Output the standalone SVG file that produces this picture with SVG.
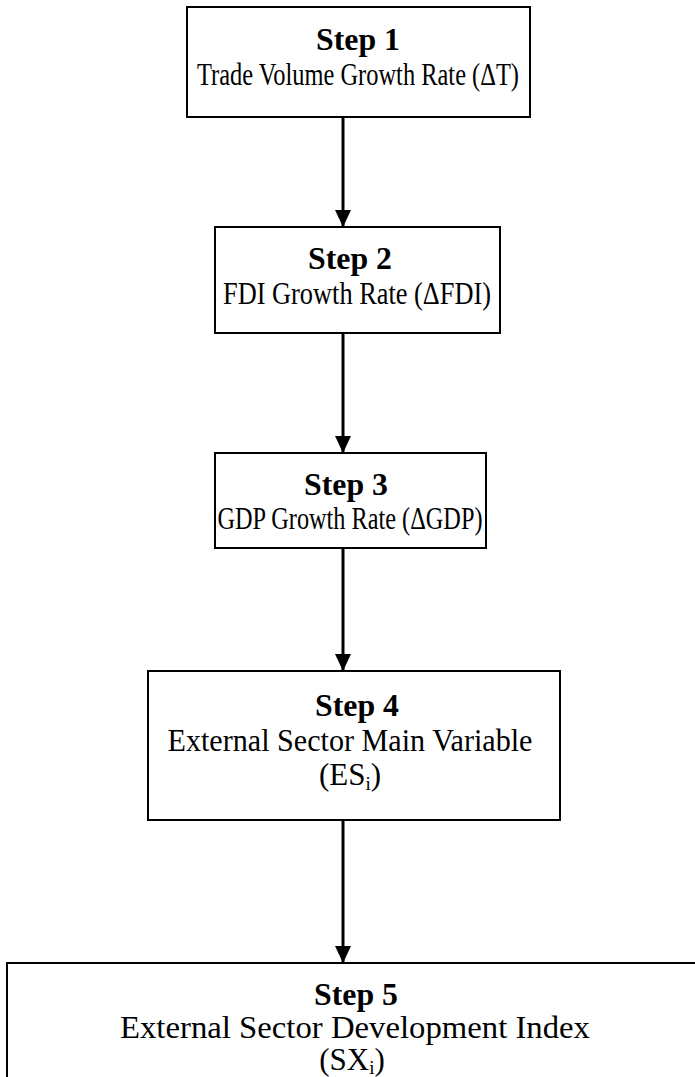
<svg xmlns="http://www.w3.org/2000/svg" width="695" height="1077" viewBox="0 0 695 1077">
<style>
.box{fill:#fff;stroke:#000;stroke-width:2}
.t{font-family:"Liberation Serif","Times New Roman",serif;font-size:31px;fill:#000;text-anchor:middle}
.b{font-weight:bold;font-size:31px}
.sub{font-size:19px}
.conn{stroke:#000;stroke-width:3;fill:none}
</style>
<defs>
<marker id="ah" markerUnits="userSpaceOnUse" markerWidth="18" markerHeight="18" refX="17" refY="8" orient="auto">
<path d="M0,0 L17,8 L0,16 Z" fill="#000"/>
</marker>
</defs>
<g id="connectors">
<line class="conn" x1="343" y1="117" x2="343" y2="227" marker-end="url(#ah)"/>
<line class="conn" x1="343" y1="333" x2="343" y2="453" marker-end="url(#ah)"/>
<line class="conn" x1="343" y1="548" x2="343" y2="671" marker-end="url(#ah)"/>
<line class="conn" x1="343" y1="820" x2="343" y2="963" marker-end="url(#ah)"/>
</g>
<g id="step1">
<rect class="box" x="187" y="7" width="343" height="110"/>
<text class="t b" x="358" y="50" textLength="84" lengthAdjust="spacingAndGlyphs">Step 1</text>
<text class="t" x="358" y="85" textLength="322" lengthAdjust="spacingAndGlyphs">Trade Volume Growth Rate (ΔT)</text>
</g>
<g id="step2">
<rect class="box" x="215" y="227" width="285" height="106"/>
<text class="t b" x="350" y="269" textLength="84" lengthAdjust="spacingAndGlyphs">Step 2</text>
<text class="t" x="357" y="304" textLength="268" lengthAdjust="spacingAndGlyphs">FDI Growth Rate (ΔFDI)</text>
</g>
<g id="step3">
<rect class="box" x="215" y="453" width="271" height="95"/>
<text class="t b" x="346" y="495" textLength="84" lengthAdjust="spacingAndGlyphs">Step 3</text>
<text class="t" x="350" y="529" textLength="265" lengthAdjust="spacingAndGlyphs">GDP Growth Rate (ΔGDP)</text>
</g>
<g id="step4">
<rect class="box" x="148" y="671" width="412" height="149"/>
<text class="t b" x="357" y="716" textLength="84" lengthAdjust="spacingAndGlyphs">Step 4</text>
<text class="t" x="350" y="751" textLength="365" lengthAdjust="spacingAndGlyphs">External Sector Main Variable</text>
<text class="t" x="350" y="785">(ES<tspan class="sub" dy="5">i</tspan><tspan dy="-5">)</tspan></text>
</g>
<g id="step5">
<rect class="box" x="7" y="963" width="700" height="130"/>
<text class="t b" x="356" y="1005" textLength="84" lengthAdjust="spacingAndGlyphs">Step 5</text>
<text class="t" x="355" y="1038" textLength="470" lengthAdjust="spacingAndGlyphs">External Sector Development Index</text>
<text class="t" x="352" y="1070">(SX<tspan class="sub" dy="4">i</tspan><tspan dy="-4">)</tspan></text>
</g>
</svg>
